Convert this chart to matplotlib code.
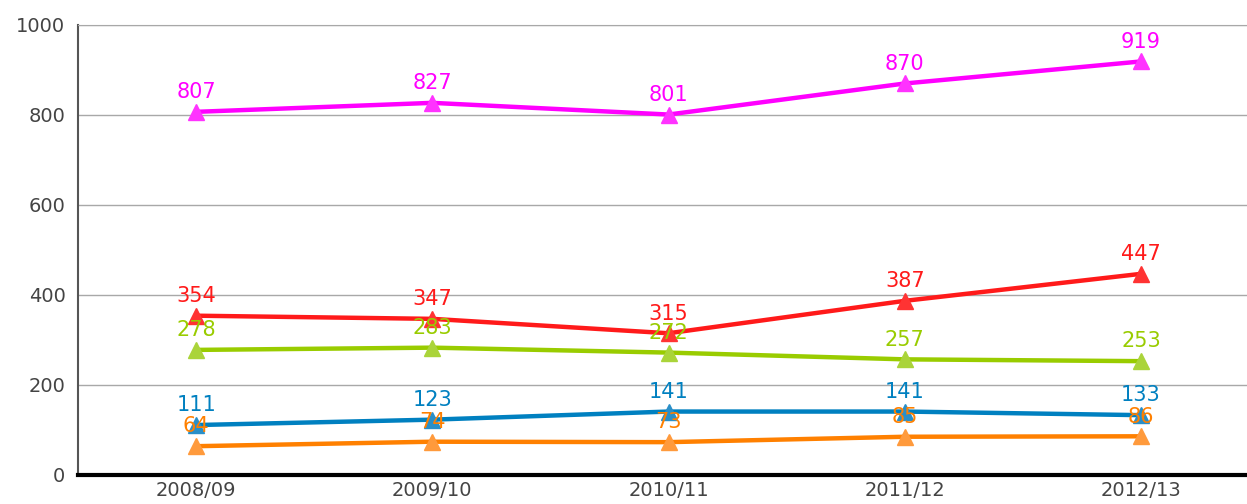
import matplotlib.pyplot as plt
import numpy as np

years = ['2008/09', '2009/10', '2010/11', '2011/12', '2012/13']
magenta = [807, 827, 801, 870, 919]
red = [354, 347, 315, 387, 447]
green = [278, 283, 272, 257, 253]
blue = [111, 123, 141, 141, 133]
orange = [64, 74, 73, 85, 86]

series = [
    (magenta, '#ff00ff', '#ff33ff'),
    (red, '#ff1a1a', '#ff3333'),
    (green, '#99cc00', '#aad43a'),
    (blue, '#0080c0', '#2a8fc8'),
    (orange, '#ff8000', '#ff9a3c'),
]

fig = plt.figure(figsize=(12.47, 5.04), dpi=100)
ax = fig.add_axes([78 / 1247, 1 - 475 / 504, 1181 / 1247, 450 / 504])

x = np.arange(len(years))
for vals, col, mcol in series:
    ax.plot(x, vals, color=col, lw=3.2, zorder=3)
    ax.plot(x, vals, ls='none', marker='^', ms=12, color=mcol, zorder=4)
    for xi, v in zip(x, vals):
        ax.annotate(str(v), (xi, v), xytext=(0, 7), textcoords='offset points',
                    ha='center', va='bottom', color=col, fontsize=15, zorder=5)

ax.set_xlim(-0.5, 4.5)
ax.set_ylim(0, 1000)
ax.set_xticks(x)
ax.set_xticklabels(years)
ax.set_yticks([0, 200, 400, 600, 800, 1000])
ax.yaxis.grid(True, color='#a8a8a8', lw=1)
ax.set_axisbelow(True)
ax.tick_params(length=0, labelsize=14, labelcolor='#444444')
ax.tick_params(axis='y', pad=9)
ax.tick_params(axis='x', pad=4)
ax.spines['top'].set_color('#a8a8a8')
ax.spines['right'].set_visible(False)
ax.spines['left'].set_color('#555555')
ax.spines['left'].set_linewidth(1.5)
ax.spines['bottom'].set_color('black')
ax.spines['bottom'].set_linewidth(3)

fig.savefig('out.png', dpi=100)
